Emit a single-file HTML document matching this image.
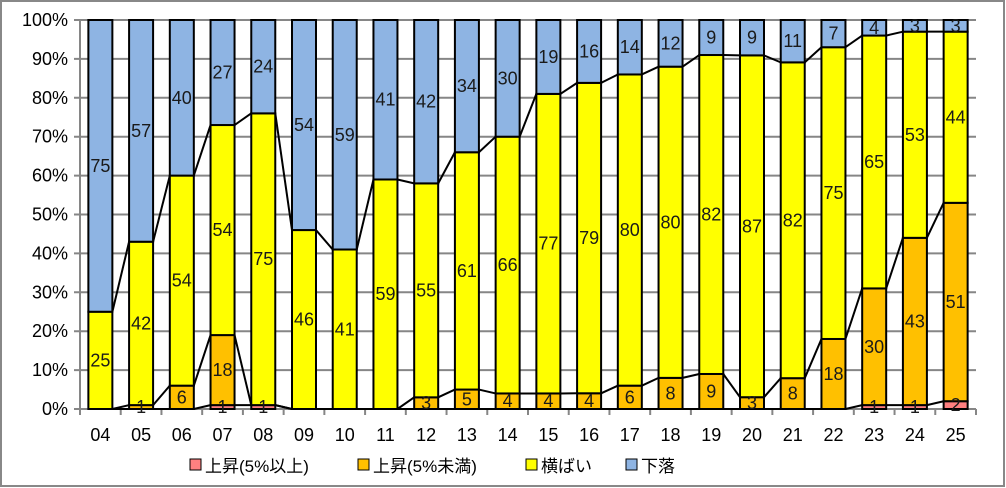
<!DOCTYPE html>
<html><head><meta charset="utf-8"><style>
body{margin:0;background:#fff}
svg{display:block;font-family:"Liberation Sans","Noto Sans CJK JP",sans-serif}
</style></head><body>
<svg id="c" width="1006" height="488" viewBox="0 0 1006 488" xmlns="http://www.w3.org/2000/svg"></svg>
<script>
const d=[["04",0,0,25,75],["05",0,1,42,57],["06",0,6,54,40],["07",1,18,54,27],["08",1,0,75,24],["09",0,0,46,54],["10",0,0,41,59],["11",0,0,59,41],["12",0,3,55,42],["13",0,5,61,34],["14",0,4,66,30],["15",0,4,77,19],["16",0,4,79,16],["17",0,6,80,14],["18",0,8,80,12],["19",0,9,82,9],["20",0,3,87,9],["21",0,8,82,11],["22",0,18,75,7],["23",1,30,65,4],["24",1,43,53,3],["25",2,51,44,3]];
const cols=["#FF8080","#FFC000","#FFFF00","#8EB4E3"];
const L=80,R=976,T=20,B=409,H=B-T,n=d.length,cw=(R-L)/n,bw=24;
let s='<rect x="1" y="1" width="1003" height="485" fill="#fff" stroke="#888" stroke-width="2"/>';
for(let i=0;i<=10;i++){const y=B-H*i/10;s+=`<line x1="${L-6}" y1="${y}" x2="${R}" y2="${y}" stroke="#868686" stroke-width="2"/>`;
s+=`<text x="${L-12}" y="${y+6}" font-size="18" text-anchor="end" fill="#000">${i*10}%</text>`;}
s+=`<line x1="${L}" y1="${T}" x2="${L}" y2="${B+5}" stroke="#868686" stroke-width="2"/>`;
for(let i=0;i<=n;i++){const x=L+cw*i;s+=`<line x1="${x}" y1="${B}" x2="${x}" y2="${B+6}" stroke="#868686" stroke-width="2"/>`;}
let bars='',labels='',tops=[];
d.forEach((r,i)=>{const v=r.slice(1),tot=v.reduce((a,b)=>a+b,0);const x0=L+cw*i+(cw-bw)/2;let c=0;const t=[];
v.forEach((val,k)=>{const y1=B-H*c/tot;c+=val;const y2=B-H*c/tot;t.push(y2);
if(val>0){bars+=`<rect x="${x0}" y="${y2}" width="${bw}" height="${y1-y2}" fill="${cols[k]}" stroke="#000" stroke-width="2"/>`;
labels+=`<text x="${x0+bw/2}" y="${(y1+y2)/2+6}" font-size="18" text-anchor="middle" fill="#1a1a1a">${val}</text>`;}});
tops.push({x0,t});
s+=`<text x="${L+cw*i+cw/2}" y="441" font-size="18" text-anchor="middle" fill="#000">${r[0]}</text>`;});
let lines='';
for(let i=0;i<n-1;i++){for(let k=0;k<3;k++){lines+=`<line x1="${tops[i].x0+bw}" y1="${tops[i].t[k]}" x2="${tops[i+1].x0}" y2="${tops[i+1].t[k]}" stroke="#000" stroke-width="2"/>`;}}
s+=lines+bars+labels;
const lg=[["上昇(5%以上)",190],["上昇(5%未満)",358],["横ばい",526],["下落",626]];
lg.forEach((g,k)=>{s+=`<rect x="${g[1]}" y="459" width="11" height="11" fill="${cols[k]}" stroke="#000" stroke-width="1"/><text x="${g[1]+15}" y="472" font-size="17" fill="#000">${g[0]}</text>`;});
document.getElementById('c').innerHTML=s;
</script>
</body></html>
